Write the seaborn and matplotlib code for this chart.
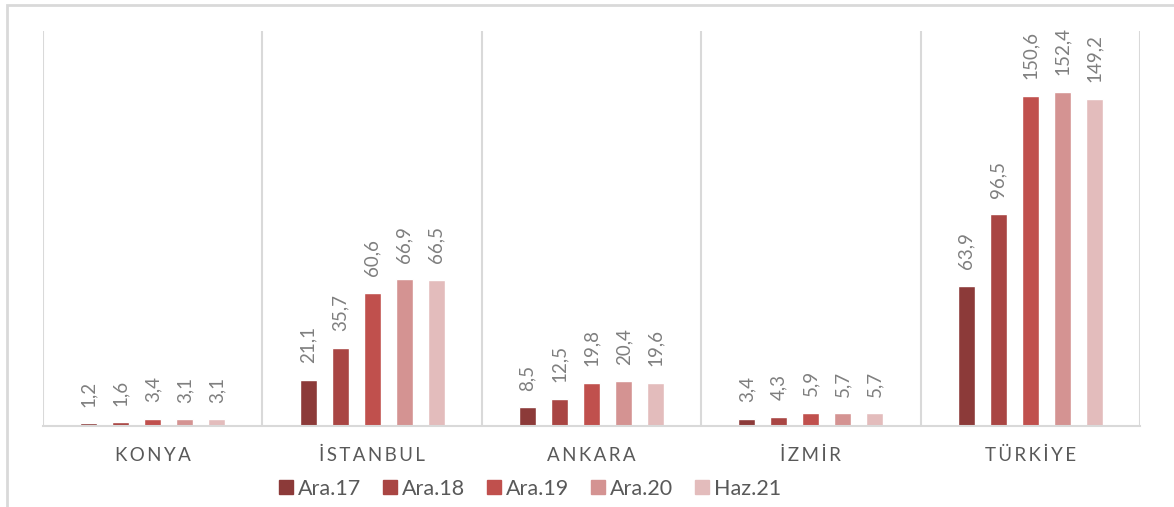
import matplotlib
matplotlib.use("Agg")
import matplotlib.pyplot as plt
from matplotlib.patches import Rectangle
from matplotlib.lines import Line2D
import seaborn as sns
import pandas as pd

cities = ["KONYA", "İSTANBUL", "ANKARA", "İZMİR", "TÜRKİYE"]
periods = ["Ara.17", "Ara.18", "Ara.19", "Ara.20", "Haz.21"]
ara17 = [1.2, 21.1, 8.5, 3.4, 63.9]
ara18 = [1.6, 35.7, 12.5, 4.3, 96.5]
ara19 = [3.4, 60.6, 19.8, 5.9, 150.6]
ara20 = [3.1, 66.9, 20.4, 5.7, 152.4]
haz21 = [3.1, 66.5, 19.6, 5.7, 149.2]
colors = ["#8C3A39", "#A94543", "#C0504D", "#D49392", "#E3BCBC"]

rows = []
for period, vals in zip(periods, [ara17, ara18, ara19, ara20, haz21]):
    for city, v in zip(cities, vals):
        rows.append({"city": city, "period": period, "value": v})
df = pd.DataFrame(rows)

sns.set_style("white")
plt.rcParams["font.family"] = ["Lato", "DejaVu Sans"]

fig = plt.figure(figsize=(11.74, 5.07), dpi=100)
ax = fig.add_axes([43 / 1174, 81 / 507, 1097 / 1174, 395 / 507])

sns.barplot(data=df, x="city", y="value", hue="period", order=cities,
            hue_order=periods, palette=colors, width=0.73, gap=0.47,
            saturation=1, ax=ax, legend=False)

# data labels, turkish decimal comma
for container in ax.containers:
    labels = [f"{v:.1f}".replace(".", ",") for v in container.datavalues]
    ax.bar_label(container, labels=labels, rotation=90, padding=12,
                 fontsize=13.5, color="#7F7F7F")

ax.set_xlim(-0.5, 4.5)
ax.set_ylim(0, 180)
ax.set_yticks([])
ax.set_xlabel("")
ax.set_ylabel("")

spaced = ["\u2009".join(c) for c in cities]
ax.set_xticks(range(len(cities)))
ax.set_xticklabels(spaced, fontsize=13.5, color="#595959")
ax.tick_params(axis="x", length=0, pad=15)
ax.set_xticks([i - 0.5 for i in range(len(cities) + 1)], minor=True)
ax.tick_params(axis="x", which="minor", length=0)
ax.grid(axis="x", which="minor", color="#D9D9D9", linewidth=1.5)
ax.grid(axis="x", which="major", visible=False)

for side in ["top", "right", "left"]:
    ax.spines[side].set_visible(False)
ax.spines["bottom"].set_color("#D9D9D9")
ax.spines["bottom"].set_linewidth(1.5)

handles = [Line2D([], [], marker="s", linestyle="", markersize=10.5,
                  markerfacecolor=c, markeredgecolor=c) for c in colors]
fig.legend(handles, periods, loc="center", bbox_to_anchor=(528 / 1174, 1 - 489 / 507),
           ncol=5, frameon=False, fontsize=15.5, labelcolor="#595959",
           handletextpad=0.05, columnspacing=0.85, handlelength=1.0)

# outer chart-area border
fig.patches.append(Rectangle((7 / 1174, -0.05), 1.2, 0.05 + 1 - 5 / 507,
                             transform=fig.transFigure, fill=False,
                             edgecolor="#D9D9D9", linewidth=2))

fig.savefig("out.png", dpi=100)
